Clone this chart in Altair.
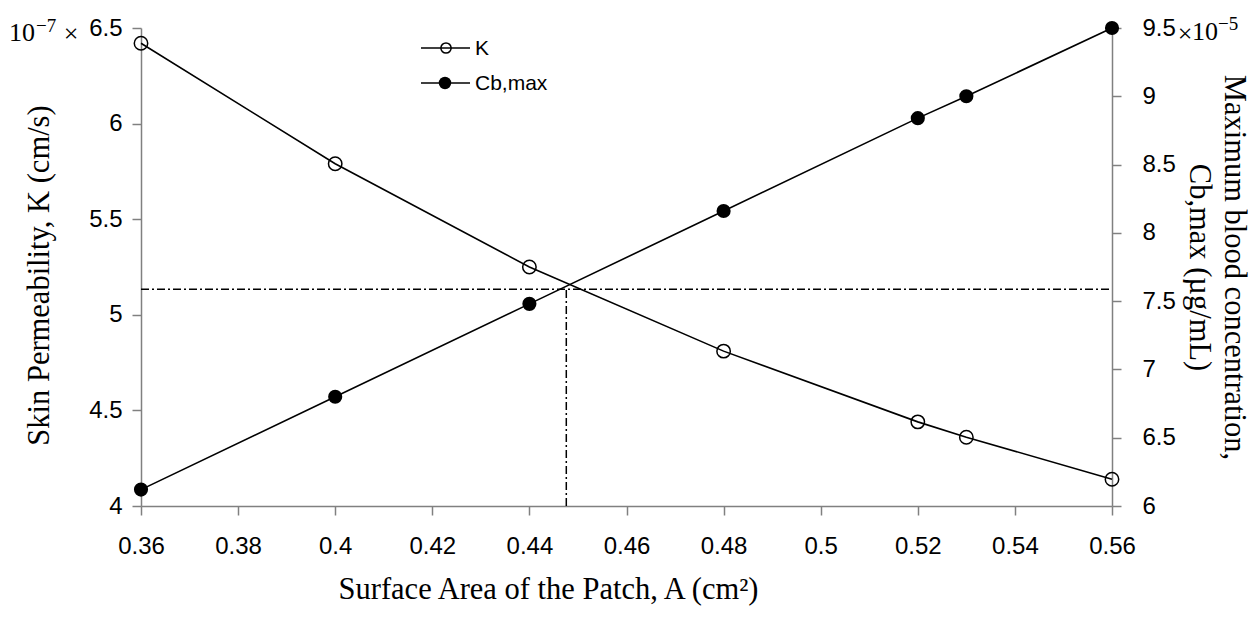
import altair as alt
import pandas as pd

# ---- data ----
area = [0.36, 0.40, 0.44, 0.48, 0.52, 0.53, 0.56]
k_vals = [6.42, 5.79, 5.25, 4.81, 4.44, 4.36, 4.14]      # x 1e-7 cm/s
cb_vals = [6.12, 6.80, 7.48, 8.16, 8.84, 9.00, 9.50]     # x 1e-5 ug/mL

x_ticks = [0.36, 0.38, 0.40, 0.42, 0.44, 0.46, 0.48, 0.50, 0.52, 0.54, 0.56]
k_ticks = [4, 4.5, 5, 5.5, 6, 6.5]
cb_ticks = [6, 6.5, 7, 7.5, 8, 8.5, 9, 9.5]

cross_area = 0.4476
cross_k = 5.134

x_dom = [0.36, 0.56]
k_dom = [4, 6.5]
cb_dom = [6, 9.5]

df = pd.DataFrame({"area": area, "K": k_vals, "Cb": cb_vals})
h_df = pd.DataFrame({"area": [x_dom[0]], "area2": [x_dom[1]], "K": [cross_k]})
v_df = pd.DataFrame({"area": [cross_area], "K": [k_dom[0]], "K2": [cross_k]})
k_corner = pd.DataFrame({"area": [x_dom[0]], "K": [k_dom[1]]})
cb_corner = pd.DataFrame({"area": [x_dom[1]], "Cb": [cb_dom[1]]})
one = pd.DataFrame({"a": [0]})

xs = alt.Scale(domain=x_dom, nice=False, zero=False)
ks = alt.Scale(domain=k_dom, nice=False, zero=False)
cs = alt.Scale(domain=cb_dom, nice=False, zero=False)

x_axis = alt.Axis(values=x_ticks, format=".2~f", labelPadding=19, labelFlush=False,
                  title="Surface Area of the Patch, A (cm²)",
                  titleX=407, titleY=92, titleAlign="center",
                  titleBaseline="alphabetic", titleAngle=0)
k_axis = alt.Axis(values=k_ticks, format="~g", labelPadding=10, labelFlush=False,
                  title="Skin Permeability, K (cm/s)", titleAngle=270,
                  titleX=-102, titleY=247, titleAlign="center",
                  titleBaseline="middle")
cb_axis = alt.Axis(orient="right", values=cb_ticks, format="~g", labelPadding=21,
                   labelFlush=False,
                   title=["Maximum blood concentration,", "Cb,max (µg/mL)"],
                   titleAngle=90, titleX=112, titleY=239, titleAlign="center",
                   titleBaseline="alphabetic", titleLineHeight=35)

X = alt.X("area:Q", scale=xs, axis=x_axis)
YK = alt.Y("K:Q", scale=ks, axis=k_axis)
YC = alt.Y("Cb:Q", scale=cs, axis=cb_axis)

dash = [8, 3, 2, 3]

h_rule = alt.Chart(h_df).mark_rule(color="black", strokeWidth=1.5, strokeDash=dash).encode(
    x=X, x2="area2:Q", y=YK)
v_rule = alt.Chart(v_df).mark_rule(color="black", strokeWidth=1.5, strokeDash=dash).encode(
    x=X, y=YK, y2="K2:Q")

k_line = alt.Chart(df).mark_line(color="black", strokeWidth=1.6).encode(x=X, y=YK)
k_pts = alt.Chart(df).mark_point(shape="circle", filled=False, color="black",
                                 strokeWidth=1.5, size=180, opacity=1).encode(x=X, y=YK)

serif = "Liberation Serif"
sans = "Liberation Sans"

k_p1 = alt.Chart(k_corner).mark_text(text="10", font=serif, fontSize=26, align="right",
                                     baseline="alphabetic", dx=-106, dy=13, color="black").encode(x=X, y=YK)
k_p2 = alt.Chart(k_corner).mark_text(text="−7", font=serif, fontSize=19, align="left",
                                     baseline="alphabetic", dx=-105, dy=4, color="black").encode(x=X, y=YK)
k_p3 = alt.Chart(k_corner).mark_text(text="×", font=serif, fontSize=26, align="center",
                                     baseline="alphabetic", dx=-70, dy=14, color="black").encode(x=X, y=YK)

# legend (drawn by hand, like the original)
lg_r1 = alt.Chart(one).mark_rule(color="black", strokeWidth=1.6).encode(
    x=alt.value(280), x2=alt.value(329), y=alt.value(20))
lg_p1 = alt.Chart(one).mark_point(shape="circle", filled=False, color="black",
                                  strokeWidth=1.5, size=105, opacity=1).encode(
    x=alt.value(305), y=alt.value(20))
lg_t1 = alt.Chart(one).mark_text(text="K", font=sans, fontSize=21, align="left",
                                 baseline="middle", color="black").encode(
    x=alt.value(334), y=alt.value(21))
lg_r2 = alt.Chart(one).mark_rule(color="black", strokeWidth=1.6).encode(
    x=alt.value(280), x2=alt.value(329), y=alt.value(55))
lg_p2 = alt.Chart(one).mark_circle(color="black", size=155, opacity=1).encode(
    x=alt.value(304), y=alt.value(55))
lg_t2 = alt.Chart(one).mark_text(text="Cb,max", font=sans, fontSize=21, align="left",
                                 baseline="middle", color="black").encode(
    x=alt.value(334), y=alt.value(56))

left = alt.layer(h_rule, v_rule, k_line, k_pts, k_p1, k_p2, k_p3,
                 lg_r1, lg_p1, lg_t1, lg_r2, lg_p2, lg_t2)

c_line = alt.Chart(df).mark_line(color="black", strokeWidth=1.6).encode(x=X, y=YC)
c_pts = alt.Chart(df).mark_circle(color="black", size=200, opacity=1).encode(x=X, y=YC)
c_s1 = alt.Chart(cb_corner).mark_text(text="×", font=serif, fontSize=26, align="center",
                                      baseline="alphabetic", dx=73, dy=14, color="black").encode(x=X, y=YC)
c_s2 = alt.Chart(cb_corner).mark_text(text="10", font=serif, fontSize=26, align="left",
                                      baseline="alphabetic", dx=80, dy=12, color="black").encode(x=X, y=YC)
c_s3 = alt.Chart(cb_corner).mark_text(text="−5", font=serif, fontSize=19, align="left",
                                      baseline="alphabetic", dx=106, dy=2, color="black").encode(x=X, y=YC)

right = alt.layer(c_line, c_pts, c_s1, c_s2, c_s3)

chart = alt.layer(left, right).resolve_scale(y="independent").properties(
    width=971, height=478,
    padding={"left": 141, "top": 28, "right": 140, "bottom": 122},
    autosize=alt.AutoSizeParams(type="none"),
    background="white",
).configure_view(stroke=None).configure_axis(
    grid=False,
    labelFont=sans, labelFontSize=24, labelColor="black",
    titleFont=serif, titleFontSize=30.5, titleFontWeight="normal", titleColor="black",
    domainColor="#808080", domainWidth=1.5,
    tickColor="#808080", tickWidth=1.5, tickSize=9,
)

chart.save("out.html", embed_options={"renderer": "svg", "actions": False})
